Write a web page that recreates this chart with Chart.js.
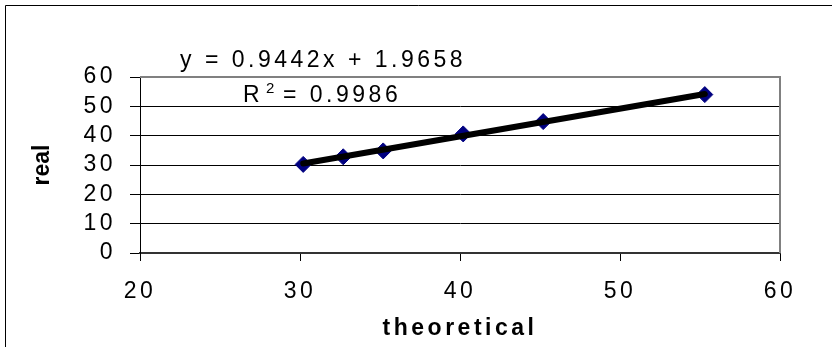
<!DOCTYPE html>
<html>
<head>
<meta charset="utf-8">
<script src="https://cdn.jsdelivr.net/npm/chart.js@4"></script>
<style>
  html, body { margin: 0; padding: 0; background: #fff; }
  #wrap { width: 832px; height: 347px; }
</style>
</head>
<body>
<div id="wrap"><canvas id="c" width="832" height="347"></canvas></div>
<script>
// ---- data ----
const theoretical = [30.2, 32.7, 35.2, 40.2, 45.2, 55.3];
const real = [30.2, 32.8, 34.8, 40.6, 44.8, 54.0];
const trendX = [30.2, 55.3];
const trendY = [30.5, 54.2];
const xTicks = [20, 30, 40, 50, 60];
const yTicks = [0, 10, 20, 30, 40, 50, 60];
const equationText = 'y = 0.9442x + 1.9658';
const r2Label = 'R';
const r2Sup = '2';
const r2Value = '= 0.9986';
const xTitle = 'theoretical';
const yTitle = 'real';

const FONT = '"Liberation Sans", Arial, sans-serif';
const SPACING = '3.5px';

const pointData = theoretical.map((x, i) => ({ x: x, y: real[i] }));
const trendData = trendX.map((x, i) => ({ x: x, y: trendY[i] }));

const framePlugin = {
  id: 'frame',
  beforeDraw(chart) {
    const ctx = chart.ctx;
    ctx.letterSpacing = SPACING;
    ctx.save();
    ctx.strokeStyle = '#000';
    ctx.lineWidth = 1;
    ctx.beginPath();
    ctx.moveTo(5.5, 347);
    ctx.lineTo(5.5, 5.5);
    ctx.lineTo(832, 5.5);
    ctx.stroke();
    ctx.restore();
    const ys = chart.scales.y;
    if (!ys._patched) {
      const orig = ys.drawTitle;
      ys.drawTitle = function () {
        const c = this.ctx;
        const prev = c.letterSpacing;
        c.letterSpacing = '0px';
        orig.call(this);
        c.letterSpacing = prev;
      };
      ys._patched = true;
    }
  },
  beforeDatasetsDraw(chart) {
    const ctx = chart.ctx;
    const a = chart.chartArea;
    ctx.save();
    ctx.strokeStyle = '#808080';
    ctx.lineWidth = 2;
    ctx.beginPath();
    ctx.moveTo(a.left, a.top);
    ctx.lineTo(a.right, a.top);
    ctx.lineTo(a.right, a.bottom);
    ctx.stroke();
    ctx.restore();
  },
  afterDraw(chart) {
    const ctx = chart.ctx;
    ctx.save();
    ctx.letterSpacing = SPACING;
    ctx.fillStyle = '#000';
    ctx.textBaseline = 'alphabetic';
    ctx.textAlign = 'left';
    ctx.font = '23px ' + FONT;
    ctx.fillText(equationText, 180, 67);
    ctx.fillText(r2Label, 243, 102);
    ctx.fillText(r2Value, 283, 102);
    ctx.font = '15px ' + FONT;
    ctx.fillText(r2Sup, 266, 93);
    ctx.restore();
  }
};

new Chart(document.getElementById('c'), {
  type: 'scatter',
  data: {
    datasets: [
      {
        label: 'trend',
        data: trendData,
        showLine: true,
        borderColor: '#000',
        backgroundColor: '#000',
        borderWidth: 6,
        pointRadius: 0,
        borderCapStyle: 'round'
      },
      {
        label: 'real',
        data: pointData,
        showLine: false,
        pointStyle: 'rectRot',
        pointRadius: 8,
        backgroundColor: '#000080',
        borderColor: '#000080',
        borderWidth: 1
      }
    ]
  },
  options: {
    responsive: false,
    animation: false,
    events: [],
    layout: { padding: { left: 0, right: 52, top: 77, bottom: 0 } },
    plugins: { legend: { display: false }, tooltip: { enabled: false } },
    scales: {
      x: {
        type: 'linear',
        min: 20, max: 60,
        afterBuildTicks(s) { s.ticks = xTicks.map(v => ({ value: v })); },
        afterFit(s) { s.height = 94; },
        grid: { drawOnChartArea: false, drawTicks: true, tickLength: 8, color: '#000', lineWidth: 1 },
        border: { display: true, color: '#333', width: 2 },
        ticks: { color: '#000', font: { family: FONT, size: 23 }, padding: 17, maxRotation: 0, autoSkip: false },
        title: { display: true, text: xTitle, color: '#000', font: { family: FONT, size: 23, weight: 'bold' }, padding: { top: 0, bottom: 5 } }
      },
      y: {
        type: 'linear',
        min: 0, max: 60,
        afterBuildTicks(s) { s.ticks = yTicks.map(v => ({ value: v })); },
        afterFit(s) { s.width = 140; },
        grid: { drawOnChartArea: true, drawTicks: true, tickLength: 10, color: '#000', lineWidth: 1 },
        border: { display: true, color: '#000', width: 1 },
        ticks: { color: '#000', font: { family: FONT, size: 23 }, padding: 14, autoSkip: false },
        title: { display: true, text: yTitle, color: '#000', font: { family: FONT, size: 23, weight: 'bold' }, padding: { top: 29, bottom: 0 } }
      }
    }
  },
  plugins: [framePlugin]
});
</script>
</body>
</html>
